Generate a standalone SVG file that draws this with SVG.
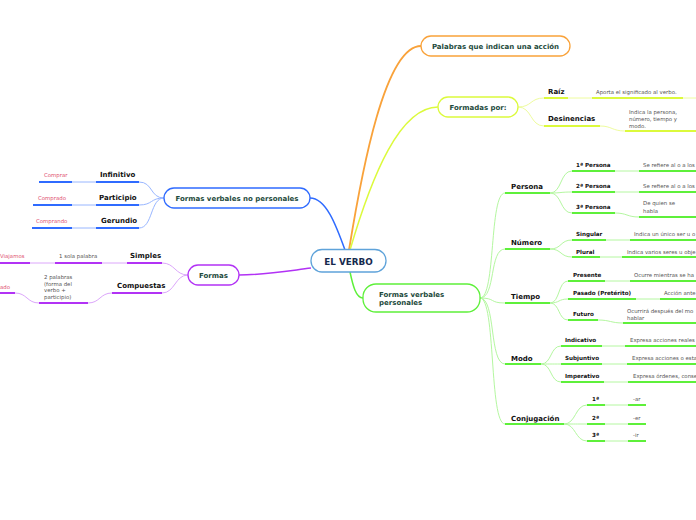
<svg xmlns="http://www.w3.org/2000/svg" width="696" height="520" viewBox="0 0 696 520">
<style>
text{font-family:"DejaVu Sans","Liberation Sans",sans-serif}
.node{fill:#fff;stroke-width:1.3}
.nl{font-weight:bold;font-size:7px;fill:#1d4a3c}
.lb{font-weight:bold;font-size:7px;fill:#111}
.sl{font-weight:bold;font-size:5.6px;fill:#111}
.lf{font-size:5.4px;fill:#555}
.rd{font-size:5.4px;fill:#e0506f}
.th{fill:none;stroke-width:2}
.tn{fill:none;stroke-width:1}
.o{stroke:#f9a23a}.y{stroke:#dcfa3c}.yl{stroke:#eefc9e}
.g{stroke:#5ef03a}.gl{stroke:#b4f7a0}
.b{stroke:#2f6bff}.bl{stroke:#98b6ff}
.p{stroke:#b232f5}.pl{stroke:#dca6fb}
</style>
<g id="connectors" fill="none">
<path class="o" stroke-width="1.8" d="M349,250 C362,170 385,46 421,46"/>
<path class="y" stroke-width="1.5" d="M350,250 C372,175 400,107 438,107"/>
<path class="b" stroke-width="1.5" d="M345,250 C336,225 326,198 310,198"/>
<path class="g" stroke-width="1.5" d="M350,272 C353,286 356,298 363,298"/>
<path class="p" stroke-width="1.5" d="M311,268 C280,272 262,275 239,275"/>
<!-- yellow -->
<g class="tn yl">
<path d="M518,107 C532,107 530,98 544,98"/>
<path d="M518,107 C532,107 530,126 544,126"/>
<path d="M568,98 H592"/><path d="M683,98 H696"/>
<path d="M600,126 C612,126 612,131 625,131"/>
</g>
<g class="th y">
<path d="M544,98 H568"/><path d="M592,98 H683"/>
<path d="M544,126 H600"/><path d="M625,131 H696"/>
</g>
<!-- green -->
<g class="tn gl">
<path d="M480,298 C496,298 489,193 505,193"/>
<path d="M480,298 C496,298 489,249 505,249"/>
<path d="M480,298 C496,298 489,303 505,303"/>
<path d="M480,298 C496,298 489,364 505,364"/>
<path d="M480,298 C496,298 489,424 505,424"/>
<path d="M550,193 C562,193 560,171 572,171"/>
<path d="M550,193 C562,193 560,192 572,192"/>
<path d="M550,193 C562,193 560,213 572,213"/>
<path d="M615,171 H639"/><path d="M615,192 H639"/>
<path d="M615,213 C627,213 627,217 639,217"/>
<path d="M550,249 C562,249 560,240 572,240"/>
<path d="M550,249 C562,249 560,257 572,257"/>
<path d="M606,240 H630"/><path d="M600,257 H622"/>
<path d="M550,303 C560,303 558,281 568,281"/>
<path d="M550,303 C560,303 558,299 568,299"/>
<path d="M550,303 C560,303 558,320 568,320"/>
<path d="M605,281 H630"/><path d="M636,299 H660"/>
<path d="M598,320 C610,320 611,323 623,323"/>
<path d="M541,364 C552,364 550,346 561,346"/>
<path d="M541,364 C552,364 550,364 561,364"/>
<path d="M541,364 C552,364 550,382 561,382"/>
<path d="M602,346 H625"/><path d="M602,364 H627"/><path d="M604,382 H628"/>
<path d="M564,424 C576,424 575,405 587,405"/>
<path d="M564,424 C576,424 575,424 587,424"/>
<path d="M564,424 C576,424 575,441 587,441"/>
<path d="M605,405 H628"/><path d="M605,424 H628"/><path d="M605,441 H628"/>
</g>
<g class="th g">
<path d="M505,193 H550"/><path d="M505,249 H550"/><path d="M505,303 H550"/><path d="M505,364 H541"/><path d="M505,424 H564"/>
<path d="M572,171 H615"/><path d="M639,171 H696"/>
<path d="M572,192 H615"/><path d="M639,192 H696"/>
<path d="M572,213 H615"/><path d="M639,217 H696"/>
<path d="M572,240 H606"/><path d="M630,240 H696"/>
<path d="M572,257 H600"/><path d="M622,257 H696"/>
<path d="M568,281 H605"/><path d="M630,281 H696"/>
<path d="M568,299 H636"/><path d="M660,299 H696"/>
<path d="M568,320 H598"/><path d="M623,323 H696"/>
<path d="M561,346 H602"/><path d="M625,346 H696"/>
<path d="M561,364 H602"/><path d="M627,364 H696"/>
<path d="M561,382 H604"/><path d="M628,382 H696"/>
<path d="M587,405 H605"/><path d="M628,405 H646"/>
<path d="M587,424 H605"/><path d="M628,424 H646"/>
<path d="M587,441 H605"/><path d="M628,441 H646"/>
</g>
<!-- blue -->
<g class="tn bl">
<path d="M164,198 C150,198 153,182 139,182"/>
<path d="M164,198 C150,198 153,205 139,205"/>
<path d="M164,198 C150,198 153,228 139,228"/>
<path d="M72,182 H96"/><path d="M72,205 H96"/><path d="M72,228 H96"/>
</g>
<g class="th b">
<path d="M96,182 H139"/><path d="M39,182 H72"/>
<path d="M96,205 H139"/><path d="M33,205 H72"/>
<path d="M96,228 H139"/><path d="M32,228 H72"/>
</g>
<!-- purple -->
<g class="tn pl">
<path d="M188,275 C175,275 175,263 162,263"/>
<path d="M188,275 C175,275 175,293 162,293"/>
<path d="M102,263 H127"/><path d="M30,263 H55"/>
<path d="M112,293 C100,293 100,303 88,303"/>
<path d="M39,303 C27,303 27,293 15,293"/>
</g>
<g class="th p">
<path d="M127,263 H162"/><path d="M55,263 H102"/><path d="M0,263 H30"/>
<path d="M112,293 H162"/><path d="M39,303 H88"/><path d="M0,293 H15"/>
</g>
</g>
<g id="n-verbo">
<rect class="node" x="311" y="249.5" width="75" height="22.5" rx="11" stroke="#5fa3da"/>
<text x="348.5" y="264.5" text-anchor="middle" font-weight="bold" font-size="8.8" fill="#15294d">EL VERBO</text>
</g>
<g id="n-palabras">
<rect class="node" x="421" y="36" width="149" height="20" rx="10" stroke="#f9a23a"/>
<text class="nl" x="495.5" y="48.5" text-anchor="middle">Palabras que indican una acción</text>
</g>
<g id="n-formadas">
<rect class="node" x="438" y="97" width="80" height="20" rx="10" stroke="#dcfa3c"/>
<text class="nl" x="478" y="109.5" text-anchor="middle">Formadas por:</text>
</g>
<g id="n-raiz"><text class="lb" x="548" y="94">Raíz</text><text class="lf" x="596" y="94">Aporta el significado al verbo.</text></g>
<g id="n-desinencias"><text class="lb" x="548" y="121">Desinencias</text>
<text class="lf" x="629" y="114">Indica la persona,</text><text class="lf" x="629" y="121">número, tiempo y</text><text class="lf" x="629" y="128">modo.</text></g>
<g id="n-fvp">
<rect class="node" x="363" y="284" width="117" height="28" rx="13" stroke="#5ef03a"/>
<text class="nl" x="379" y="296.5">Formas verbales</text>
<text class="nl" x="379" y="305">personales</text>
</g>
<g id="n-persona"><text class="lb" x="511" y="189">Persona</text>
<text class="sl" x="576" y="167">1ª Persona</text><text class="lf" x="643" y="167">Se refiere al o a los</text>
<text class="sl" x="576" y="188">2ª Persona</text><text class="lf" x="643" y="188">Se refiere al o a los</text>
<text class="sl" x="576" y="209">3ª Persona</text><text class="lf" x="643" y="205">De quien se</text><text class="lf" x="643" y="213">habla</text></g>
<g id="n-numero"><text class="lb" x="511" y="245">Número</text>
<text class="sl" x="576" y="236">Singular</text><text class="lf" x="634" y="236">Indica un único ser u o</text>
<text class="sl" x="576" y="254">Plural</text><text class="lf" x="627" y="254">Indica varios seres u obje</text></g>
<g id="n-tiempo"><text class="lb" x="511" y="299">Tiempo</text>
<text class="sl" x="573" y="277">Presente</text><text class="lf" x="634" y="277">Ocurre mientras se ha</text>
<text class="sl" x="573" y="295">Pasado (Pretérito)</text><text class="lf" x="664" y="295">Acción ante</text>
<text class="sl" x="573" y="316">Futuro</text><text class="lf" x="627" y="313">Ocurrirá después del mo</text><text class="lf" x="627" y="320">hablar</text></g>
<g id="n-modo"><text class="lb" x="511" y="361">Modo</text>
<text class="sl" x="565" y="342">Indicativo</text><text class="lf" x="630" y="342">Expresa acciones reales</text>
<text class="sl" x="565" y="360">Subjuntivo</text><text class="lf" x="632" y="360">Expresa acciones o esta</text>
<text class="sl" x="565" y="378">Imperativo</text><text class="lf" x="633" y="378">Expresa órdenes, conse</text></g>
<g id="n-conjugacion"><text class="lb" x="511" y="421">Conjugación</text>
<text class="sl" x="592" y="401">1ª</text><text class="lf" x="633" y="401">-ar</text>
<text class="sl" x="592" y="420">2ª</text><text class="lf" x="633" y="420">-er</text>
<text class="sl" x="592" y="437">3ª</text><text class="lf" x="633" y="437">-ir</text></g>
<g id="n-fvnp">
<rect class="node" x="164" y="188" width="146" height="20" rx="10" stroke="#2f6bff"/>
<text class="nl" x="237" y="200.5" text-anchor="middle">Formas verbales no personales</text>
</g>
<g id="n-infinitivo"><text class="lb" x="100" y="177" font-size="6.5">Infinitivo</text><text class="rd" x="44" y="177">Comprar</text></g>
<g id="n-participio"><text class="lb" x="99" y="200" font-size="6.5">Participio</text><text class="rd" x="38" y="200">Comprado</text></g>
<g id="n-gerundio"><text class="lb" x="101" y="223" font-size="6.5">Gerundio</text><text class="rd" x="36" y="223">Comprando</text></g>
<g id="n-formas">
<rect class="node" x="188" y="265" width="51" height="20" rx="10" stroke="#b232f5"/>
<text class="nl" x="213.5" y="278" text-anchor="middle" font-size="7.5">Formas</text>
</g>
<g id="n-simples"><text class="lb" x="130" y="258" font-size="6.5">Simples</text>
<text class="lf" x="59" y="258">1 sola palabra</text><text class="rd" x="0" y="258">Viajamos</text></g>
<g id="n-compuestas"><text class="lb" x="117" y="288" font-size="6.5">Compuestas</text>
<text class="lf" x="44" y="279">2 palabras</text><text class="lf" x="44" y="285.5">(forma del</text><text class="lf" x="44" y="292">verbo +</text><text class="lf" x="44" y="298.5">participio)</text>
<text class="rd" x="0" y="289">ado</text></g>
</svg>
